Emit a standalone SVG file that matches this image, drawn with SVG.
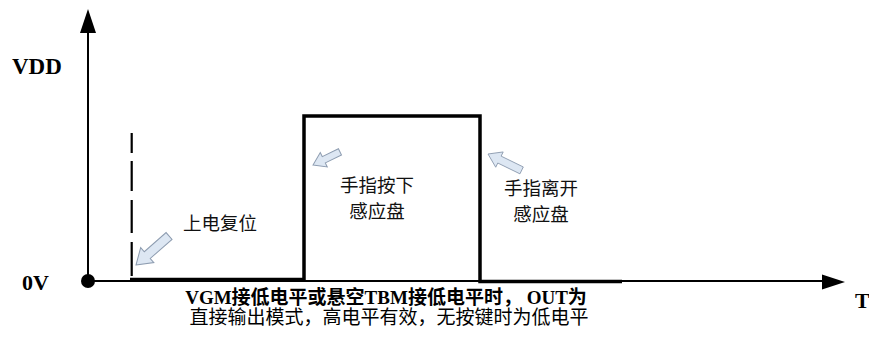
<svg xmlns="http://www.w3.org/2000/svg" width="869" height="343" viewBox="0 0 869 343">
<style>
.axis{stroke:#000;stroke-width:2;fill:none}
.sig{stroke:#000;stroke-width:3.5;fill:none;stroke-linejoin:miter}
.dash{stroke:#000;stroke-width:2.2;fill:none}
.lab{font-family:"Liberation Serif","Times New Roman",serif;font-weight:bold;fill:#000}
.cjk{font-family:"Noto Sans CJK SC","Liberation Sans",sans-serif;font-size:18.5px;fill:#111;text-anchor:middle}
.note{font-family:"Liberation Serif","Noto Sans CJK SC",serif;font-size:19px;fill:#000;text-anchor:middle}
.harrow{fill:#dde7f3;stroke:#8d9cb0;stroke-width:1}
</style>
<defs>
<path id="ha" d="M0,0 L-15,-10 L-15,-4.5 L-44,-4.5 L-44,4.5 L-15,4.5 L-15,10 Z"/>
<path id="hs" d="M0,0 L-12,-8 L-12,-3.5 L-30,-3.5 L-30,3.5 L-12,3.5 L-12,8 Z"/>
</defs>
<g id="axes">
<line class="axis" x1="88" y1="281" x2="88" y2="30"/>
<polygon points="88,9 80,33 96,33" fill="#000"/>
<line class="axis" x1="88" y1="281" x2="824" y2="281"/>
<polygon points="845,282 822,274.5 822,289.5" fill="#000"/>
<circle cx="88" cy="281" r="7" fill="#000"/>
<text class="lab" x="12" y="74" font-size="23">VDD</text>
<text class="lab" x="22" y="290" font-size="22">0V</text>
<text class="lab" x="855" y="308" font-size="22">T</text>
</g>
<g id="signal">
<polyline class="sig" points="130,279.5 304,279.5 304,116 480,116 480,281.5 622,281.5"/>
<line class="dash" x1="131.7" y1="133" x2="131.7" y2="153"/>
<line class="dash" x1="131.7" y1="161" x2="131.7" y2="191"/>
<line class="dash" x1="131.7" y1="200" x2="131.7" y2="233"/>
<line class="dash" x1="131.7" y1="242" x2="131.7" y2="276"/>
</g>
<g id="power-on">
<use href="#ha" class="harrow" transform="translate(136,265) rotate(138.7)"/>
<text class="cjk" x="220" y="230">上电复位</text>
</g>
<g id="finger-press">
<use href="#hs" class="harrow" transform="translate(313,165) rotate(154)"/>
<text class="cjk" x="377" y="192">手指按下</text>
<text class="cjk" x="377" y="218">感应盘</text>
</g>
<g id="finger-release">
<use href="#ha" class="harrow" transform="translate(488,154) rotate(206) scale(0.85)"/>
<text class="cjk" x="541" y="195">手指离开</text>
<text class="cjk" x="541" y="221">感应盘</text>
</g>
<g id="note">
<text class="note" x="386" y="304" font-weight="bold">VGM接低电平或悬空TBM接低电平时， OUT为</text>
<text class="note" x="389" y="324">直接输出模式，高电平有效，无按键时为低电平</text>
</g>
</svg>
